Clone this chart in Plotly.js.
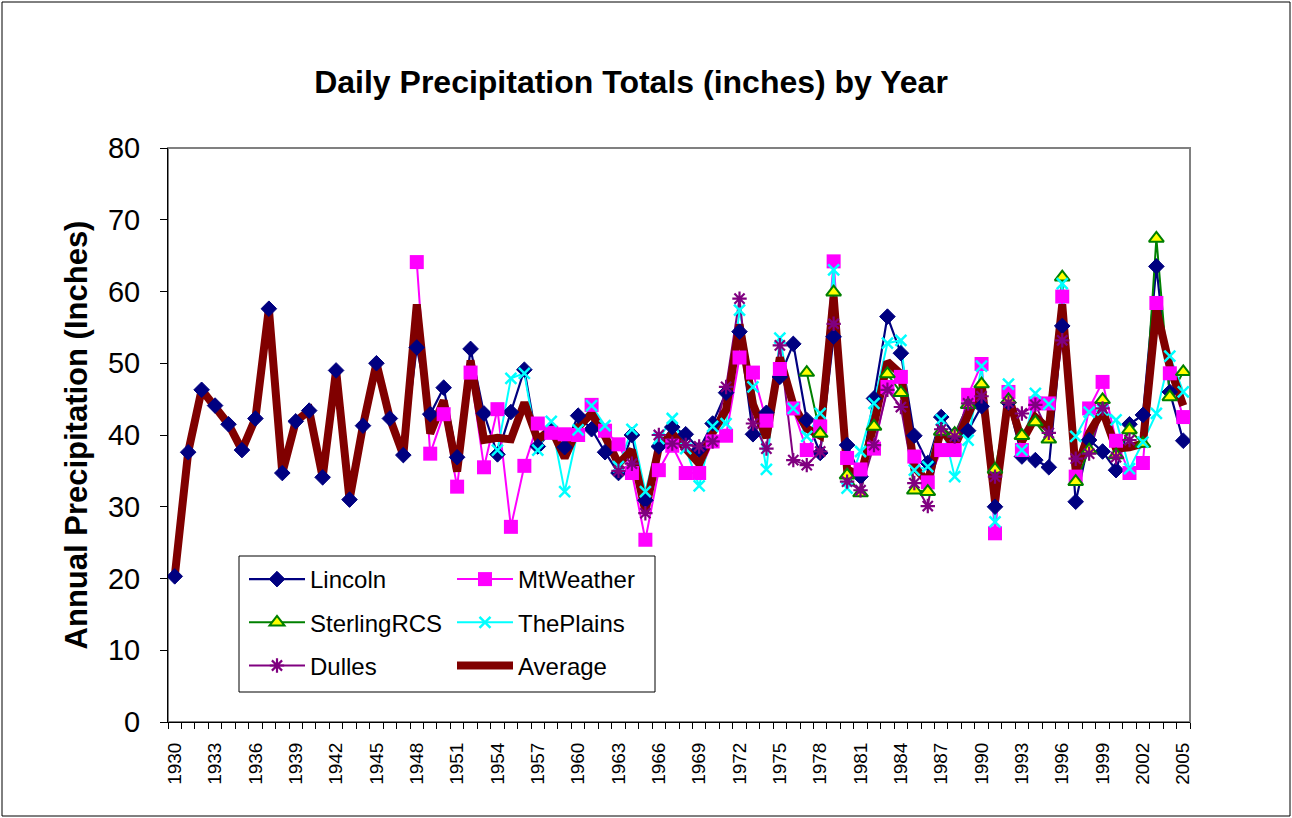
<!DOCTYPE html>
<html>
<head>
<meta charset="utf-8">
<script src="https://cdn.plot.ly/plotly-3.0.1.min.js"></script>
<style>
html,body{margin:0;padding:0;background:#fff;}
#chart{width:1292px;height:818px;}
</style>
</head>
<body>
<div id="chart"></div>
<script>
const years = [1930,1931,1932,1933,1934,1935,1936,1937,1938,1939,1940,1941,1942,1943,1944,1945,1946,1947,1948,1949,
1950,1951,1952,1953,1954,1955,1956,1957,1958,1959,1960,1961,1962,1963,1964,1965,1966,1967,1968,1969,
1970,1971,1972,1973,1974,1975,1976,1977,1978,1979,1980,1981,1982,1983,1984,1985,1986,1987,1988,1989,
1990,1991,1992,1993,1994,1995,1996,1997,1998,1999,2000,2001,2002,2003,2004,2005];

const tickYears = [1930,1933,1936,1939,1942,1945,1948,1951,1954,1957,1960,1963,1966,1969,1972,1975,1978,1981,1984,1987,1990,1993,1996,1999,2002,2005];

const lincoln = [20.3,37.6,46.3,44.1,41.5,37.9,42.3,57.6,34.7,41.9,43.4,34.1,49.0,31.0,41.3,50.0,42.3,37.2,52.2,42.9,
46.6,36.9,52.0,43.0,37.3,43.2,49.1,38.4,40.5,38.3,42.7,40.8,37.6,34.7,40.0,30.9,38.4,41.1,40.1,38.0,
41.6,45.9,54.4,40.1,43.1,48.1,52.7,42.1,37.5,53.7,38.6,34.2,45.1,56.5,51.4,39.9,36.1,42.5,40.0,40.6,
44.0,30.0,44.5,37.0,36.5,35.5,55.2,30.7,39.3,37.7,35.1,41.5,42.8,63.5,46.0,39.2];

const mtWeather = [null,null,null,null,null,null,null,null,null,null,null,null,null,null,null,null,null,null,64.1,37.4,
42.9,32.8,48.7,35.5,43.6,27.2,35.7,41.6,40.3,40.1,40.0,44.2,40.6,38.7,34.7,25.4,35.1,38.5,34.7,34.7,
39.1,39.9,50.8,48.7,42.0,49.2,43.7,37.9,41.2,64.2,36.8,35.2,38.1,46.7,48.1,37.0,33.4,37.9,37.9,45.6,
49.9,26.3,46.0,37.9,44.4,44.4,59.3,34.2,43.7,47.4,39.2,34.7,36.1,58.4,48.6,42.5];

const sterlingRCS = [null,null,null,null,null,null,null,null,null,null,null,null,null,null,null,null,null,null,null,null,
null,null,null,null,null,null,null,null,null,null,null,null,null,null,null,null,null,null,null,null,
null,null,null,null,null,null,null,48.7,40.2,59.9,34.4,31.9,41.2,48.5,45.9,32.3,32.1,40.5,40.2,44.2,
47.1,35.2,44.9,39.9,41.8,39.4,62.0,33.5,37.9,44.9,37.2,40.7,38.8,67.4,45.3,48.8];

const thePlains = [null,null,null,null,null,null,null,null,null,null,null,null,null,null,null,null,null,null,null,null,
null,null,null,null,37.9,47.9,48.6,37.9,41.9,32.1,40.7,44.1,41.3,35.6,40.8,32.1,39.5,42.3,38.1,32.9,
41.2,41.6,57.4,46.7,35.2,53.5,43.7,39.8,43.0,63.0,32.6,37.7,44.4,52.8,53.2,35.1,35.6,42.1,34.2,39.3,
49.6,27.9,47.1,37.9,45.8,44.3,61.1,39.8,43.2,43.5,42.1,35.3,39.0,43.0,51.0,46.0];

const dulles = [null,null,null,null,null,null,null,null,null,null,null,null,null,null,null,null,null,null,null,null,
null,null,null,null,null,null,null,null,null,null,null,null,null,35.0,36.0,29.1,40.0,38.8,38.6,38.4,
39.1,46.7,59.0,41.6,38.1,52.5,36.5,35.8,37.7,55.5,33.5,32.3,38.6,46.3,43.9,33.3,30.1,40.8,39.8,44.4,
45.4,34.2,44.5,43.0,44.2,40.3,53.2,36.7,37.4,43.7,36.9,39.3,null,null,null,null];

const average = [20.3,37.6,46.3,44.1,41.5,37.9,42.3,57.6,34.7,41.9,43.4,34.1,49.0,31.0,41.3,50.0,42.3,37.2,58.2,40.2,
44.8,34.9,50.4,39.3,39.6,39.4,44.5,39.3,40.9,36.8,41.1,43.0,39.8,36.0,37.9,29.4,38.3,40.2,37.9,36.0,
40.3,43.5,55.4,44.3,39.6,50.8,44.2,40.9,39.9,59.3,35.2,34.3,41.5,50.2,48.5,35.5,33.5,40.8,38.4,42.8,
47.2,30.7,45.4,39.1,42.5,40.8,58.2,35.0,40.3,43.4,38.1,38.3,38.8,57.5,49.5,44.1];

const seriesNames = ['Lincoln','MtWeather','SterlingRCS','ThePlains','Dulles','Average'];

const FONT = 'Arial, "Liberation Sans", sans-serif';

const stations = [
  {name:'Lincoln', y:lincoln, color:'#000080', width:2.2, legend:'legend',
   marker:{symbol:'diamond', size:12, color:'#000080', line:{color:'#000080', width:1}}},
  {name:'MtWeather', y:mtWeather, color:'#FF00FF', width:2, legend:'legend2',
   marker:{symbol:'square', size:14, color:'#FF00FF', line:{color:'#FF00FF', width:0}}},
  {name:'SterlingRCS', y:sterlingRCS, color:'#008000', width:2, legend:'legend',
   marker:{symbol:'triangle-up', size:13, color:'#FFFF00', line:{color:'#008000', width:2}}},
  {name:'ThePlains', y:thePlains, color:'#00FFFF', width:2, legend:'legend2',
   marker:{symbol:'x-thin-open', size:11, color:'#00FFFF', line:{color:'#00FFFF', width:2.5}}},
  {name:'Dulles', y:dulles, color:'#800080', width:2, legend:'legend',
   marker:{symbol:'asterisk-open', size:12, color:'#800080', line:{color:'#800080', width:2.2}}}
];

const traces = [];
// station lines first
stations.forEach(s => {
  traces.push({x: years, y: s.y, type:'scatter', mode:'lines', name:s.name,
    line:{color:s.color, width:s.width}, showlegend:false, hoverinfo:'skip'});
});
// average thick line above the station lines
traces.push({x: years, y: average, type:'scatter', mode:'lines', name:seriesNames[5],
  line:{color:'#800000', width:8}, showlegend:false});
// station markers on top
stations.forEach(s => {
  traces.push({x: years, y: s.y, type:'scatter', mode:'markers', name:s.name,
    marker:s.marker, showlegend:false});
});
// legend entries (no data of their own)
stations.forEach(s => {
  traces.push({x:[null], y:[null], type:'scatter', mode:'lines+markers', name:s.name,
    line:{color:s.color, width:s.width}, marker:s.marker, legend:s.legend, legendgroup:s.name, showlegend:true});
});
traces.push({x:[null], y:[null], type:'scatter', mode:'lines', name:seriesNames[5],
  line:{color:'#800000', width:8}, legend:'legend2', legendgroup:'Average', showlegend:true});

const L = 168, R = 1190, T = 148, B = 722, W = 1292, H = 818;
const pw = R - L, ph = B - T;
const px = v => (v - L) / pw;
const py = v => (B - v) / ph;

const legendCommon = {
  xanchor:'left', yanchor:'top', bgcolor:'rgba(0,0,0,0)', borderwidth:0,
  font:{family:FONT, size:24, color:'#000'}, itemwidth:56, traceorder:'grouped', tracegroupgap:9,
  itemclick:false, itemdoubleclick:false
};

const layout = {
  width:W, height:H,
  margin:{l:L, r:W-R, t:T, b:H-B, pad:0},
  paper_bgcolor:'#fff', plot_bgcolor:'#fff',
  font:{family:FONT, color:'#000'},
  showlegend:true,
  title:{text:'<b>Daily Precipitation Totals (inches) by Year</b>',
    font:{family:FONT, size:32, color:'#000'},
    x:631/W, xref:'container', xanchor:'center', y:1-82/H, yref:'container', yanchor:'middle'},
  xaxis:{
    type:'linear', range:[1929.5, 2005.5], fixedrange:true,
    tickmode:'array', tickvals:tickYears, ticktext:tickYears.map(String),
    ticks:'', tickangle:-90, tickfont:{family:FONT, size:19, color:'#000'},
    ticklabelstandoff:12,
    minor:{ticks:'outside', tickmode:'linear', tick0:1929.5, dtick:1, ticklen:6, tickcolor:'#000', tickwidth:1, showgrid:false},
    showgrid:false, zeroline:false, showline:true, linecolor:'#000', linewidth:1
  },
  yaxis:{
    range:[0,80], dtick:10, tick0:0, fixedrange:true,
    ticks:'outside', ticklen:7, tickcolor:'#000', tickwidth:1,
    tickfont:{family:FONT, size:29, color:'#000'},
    ticklabelstandoff:14,
    showgrid:false, zeroline:false, showline:true, linecolor:'#000', linewidth:1,
    title:{text:'<b>Annual Precipitation (Inches)</b>', font:{family:FONT, size:31, color:'#000'}, standoff:11},
    automargin:false
  },
  legend: Object.assign({x:px(244), y:py(557)}, legendCommon),
  legend2: Object.assign({x:px(452), y:py(557)}, legendCommon),
  shapes:[
    {type:'rect', xref:'paper', yref:'paper', x0:0, x1:1, y0:0, y1:1, line:{color:'#808080', width:2}, layer:'below'},
    {type:'rect', xref:'paper', yref:'paper', x0:px(239), x1:px(655), y0:py(692), y1:py(556),
      line:{color:'#000', width:1}, fillcolor:'rgba(0,0,0,0)', layer:'above'},
    {type:'rect', xref:'paper', yref:'paper', x0:px(2), x1:px(1290), y0:py(816), y1:py(2),
      line:{color:'#000', width:1}, fillcolor:'rgba(0,0,0,0)', layer:'below'}
  ]
};

Plotly.newPlot('chart', traces, layout, {displayModeBar:false, staticPlot:true});
</script>
</body>
</html>
